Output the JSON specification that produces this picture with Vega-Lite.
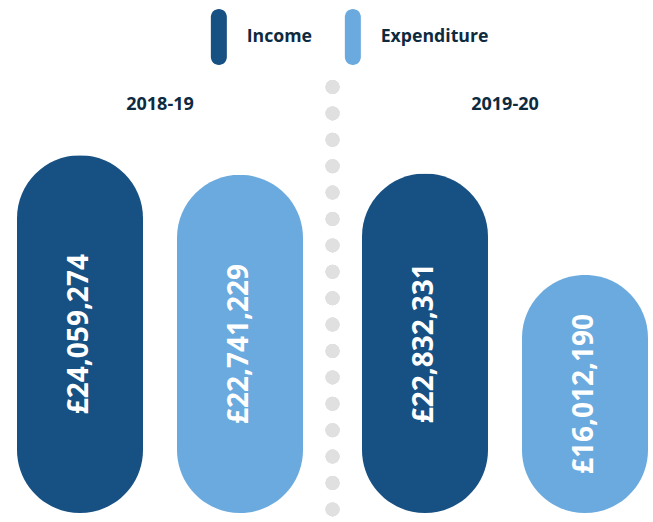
{
  "$schema": "https://vega.github.io/schema/vega-lite/v6.json",
  "width": 653,
  "height": 522,
  "autosize": "none",
  "padding": 0,
  "background": "white",
  "data": {
    "values": [
      {"year": "2018-19", "type": "Income", "value": 24059274},
      {"year": "2018-19", "type": "Expenditure", "value": 22741229},
      {"year": "2019-20", "type": "Income", "value": 22832331},
      {"year": "2019-20", "type": "Expenditure", "value": 16012190}
    ]
  },
  "encoding": {
    "x": {
      "field": "year",
      "type": "nominal",
      "sort": ["2018-19", "2019-20"],
      "scale": {"range": [17, 648], "paddingInner": 0.171, "paddingOuter": 0},
      "axis": {
        "orient": "top",
        "title": null,
        "domain": false,
        "ticks": false,
        "labelAngle": 0,
        "labelFont": "Open Sans",
        "labelFontWeight": "bold",
        "labelFontSize": 18,
        "labelColor": "#0e2a3f",
        "labelPadding": 0,
        "labelBaseline": "bottom",
        "offset": -113
      }
    }
  },
  "layer": [
    {
      "mark": {"type": "rule", "strokeWidth": 14, "strokeCap": "round", "strokeDash": [0, 26.4], "color": "#e0e0e0"},
      "encoding": {
        "x": {"datum": "2019-20", "type": "nominal", "bandPosition": -0.103},
        "y": {"datum": 28650000, "type": "quantitative", "scale": {"domain": [0, 34500000], "range": [513, 0]}, "axis": null},
        "y2": {"datum": 0}
      }
    },
    {
      "mark": {"type": "bar", "cornerRadius": 63},
      "encoding": {
        "xOffset": {
          "field": "type",
          "type": "nominal",
          "sort": ["Income", "Expenditure"],
          "scale": {"paddingInner": 0.2125, "paddingOuter": 0}
        },
        "y": {"field": "value", "type": "quantitative", "scale": {"domain": [0, 34500000], "range": [513, 0]}, "axis": null},
        "color": {
          "field": "type",
          "type": "nominal",
          "sort": ["Income", "Expenditure"],
          "scale": {"domain": ["Income", "Expenditure"], "range": ["#175082", "#6aaade"]},
          "legend": {
            "title": null,
            "orient": "none",
            "direction": "horizontal",
            "legendX": 210,
            "legendY": 28,
            "padding": 0,
            "symbolType": "M-1,-2.5A1,1 0 0 1 1,-2.5L1,2.5A1,1 0 0 1 -1,2.5Z",
            "symbolSize": 256,
            "symbolOpacity": 1,
            "symbolStrokeWidth": 0,
            "labelFont": "Open Sans",
            "labelFontWeight": "bold",
            "labelFontSize": 17.7,
            "labelColor": "#0e2a3f",
            "labelOffset": 19,
            "columnPadding": 31
          }
        }
      }
    },
    {
      "mark": {
        "type": "text",
        "angle": 270,
        "align": "center",
        "baseline": "middle",
        "color": "white",
        "font": "Open Sans",
        "fontWeight": "bold",
        "fontSize": 28,
        "text": {"expr": "'£' + format(datum.value, ',')"}
      },
      "encoding": {
        "xOffset": {
          "field": "type",
          "type": "nominal",
          "sort": ["Income", "Expenditure"],
          "scale": {"paddingInner": 0.2125, "paddingOuter": 0}
        },
        "y": {"field": "value", "type": "quantitative", "scale": {"domain": [0, 69000000], "range": [513, 0]}, "axis": null}
      }
    }
  ],
  "resolve": {"scale": {"y": "independent"}},
  "config": {"view": {"stroke": null}}
}
